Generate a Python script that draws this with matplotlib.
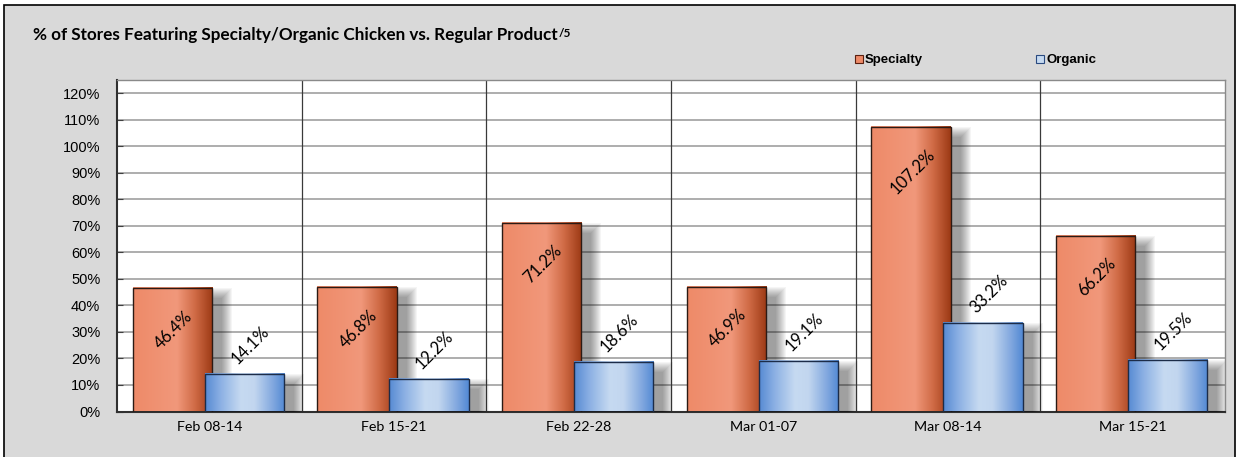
import numpy as np
import matplotlib
matplotlib.use("Agg")
import matplotlib.pyplot as plt
from matplotlib.colors import LinearSegmentedColormap
from matplotlib.patches import Rectangle, Patch

weeks = ["Feb 08-14", "Feb 15-21", "Feb 22-28", "Mar 01-07", "Mar 08-14", "Mar 15-21"]
specialty = [46.4, 46.8, 71.2, 46.9, 107.2, 66.2]
organic = [14.1, 12.2, 18.6, 19.1, 33.2, 19.5]
yticks = list(range(0, 121, 10))

W, H = 1237, 457
spec_cmap = LinearSegmentedColormap.from_list(
    "spec", [(0, "#EE8A68"), (0.55, "#F1987B"), (0.78, "#CF6A45"), (1, "#9C3914")])
org_cmap = LinearSegmentedColormap.from_list(
    "org", [(0, "#568AD3"), (0.2, "#8DB1E4"), (0.45, "#C6DAF1"),
            (0.62, "#C2D6EF"), (0.85, "#82A8DF"), (1, "#5289D4")])

fig = plt.figure(figsize=(W / 100, H / 100), dpi=100, facecolor="white")
bg = Rectangle((4 / W, -0.05), 1231 / W, 1.05 - 5 / H, transform=fig.transFigure,
               facecolor="#D9D9D9", edgecolor="black", lw=1.2, zorder=-10)
fig.add_artist(bg)
ax = fig.add_axes([117 / W, 1 - 411.5 / H, (1225 - 117) / W, (411.5 - 80) / H])
ax.set_facecolor("white")

x = np.arange(len(weeks))
wd = 0.43
sb = ax.bar(x - 0.2, specialty, wd, facecolor="none", edgecolor="#2b1a14", lw=1, zorder=4)
ob = ax.bar(x + 0.19, organic, wd, facecolor="none", edgecolor="#1c2c48", lw=1, zorder=7)

px = 1 / 184.67       # x units per pixel
py = 125 / 331.5      # y units per pixel


def shadow(rect, z):
    x0, w, h = rect.get_x(), rect.get_width(), rect.get_height()
    for k in range(11):
        r = k
        ax.add_patch(Rectangle((x0 + (10 - r) * px, -10), w + 2 * r * px,
                               h - (10 - r) * py + 10, facecolor="black",
                               edgecolor="none", alpha=0.04, zorder=z))


def fill(rect, cmap, z):
    x0, w, h = rect.get_x(), rect.get_width(), rect.get_height()
    grad = cmap(np.linspace(0, 1, 256))[None, :, :]
    ax.imshow(grad, extent=[x0, x0 + w, 0, h], aspect="auto",
              interpolation="bilinear", zorder=z)


for r in sb:
    shadow(r, 2)
    fill(r, spec_cmap, 3)
for r in ob:
    shadow(r, 5)
    fill(r, org_cmap, 6)

lab_font = dict(family="Lato", fontsize=12, rotation=45, color="black", zorder=10)
for r, v in zip(sb, specialty):
    ax.annotate(f"{v:.1f}%", (r.get_x() + r.get_width() / 2, v), xytext=(1, -14),
                textcoords="offset points", ha="center", va="top", **lab_font)
for r, v in zip(ob, organic):
    ax.annotate(f"{v:.1f}%", (r.get_x() + r.get_width() / 2, v), xytext=(4, 5),
                textcoords="offset points", ha="center", va="bottom", **lab_font)

ax.set_xlim(-0.5, len(weeks) - 0.5)
ax.set_ylim(0, 125)
ax.set_yticks(yticks)
ax.set_yticklabels([f"{t}%" for t in yticks], family="Liberation Sans", fontsize=10.5)
ax.set_xticks(x)
ax.set_xticklabels(weeks, family="Lato", fontsize=10.3)
ax.tick_params(axis="x", length=0, pad=7)
ax.tick_params(axis="y", direction="in", length=4, color="#404040", pad=12)
ax.yaxis.grid(True, color="#A0A0A0", lw=1.2)
ax.set_axisbelow(True)
for b in x[:-1] + 0.5:
    ax.axvline(b, color="#3a3a3a", lw=0.9, zorder=1)
for s in ["left", "bottom"]:
    ax.spines[s].set_color("#303030")
    ax.spines[s].set_linewidth(1.5)
for s in ["top", "right"]:
    ax.spines[s].set_color("#8A8A8A")
    ax.spines[s].set_linewidth(1)

title = fig.text(33 / W, 1 - 40 / H, "% of Stores Featuring Specialty/Organic Chicken vs. Regular Product",
                 family="Lato", fontweight="bold", fontsize=12.3, va="baseline", ha="left")
fig.add_artist(matplotlib.text.Annotation(
    "/5", xy=(1, 1), xycoords=title, xytext=(1, -1), textcoords="offset points",
    family="Lato", fontweight="bold", fontsize=8.5, va="top", ha="left"))

handles = [Patch(facecolor="#EE8A68", edgecolor="#5a2010", lw=0.8),
           Patch(facecolor="#C6DAF1", edgecolor="#2a4a80", lw=0.8)]
fig.legend(handles, ["Specialty", "Organic"], loc="center left",
           bbox_to_anchor=(855 / W, 1 - 60.5 / H), ncol=2, frameon=False,
           prop=dict(family="Liberation Sans", weight="bold", size=9.5),
           handlelength=0.6, handleheight=0.6, handletextpad=0.15,
           columnspacing=8.6, borderpad=0, borderaxespad=0)

fig.savefig("out.png", dpi=100, facecolor=fig.get_facecolor())
